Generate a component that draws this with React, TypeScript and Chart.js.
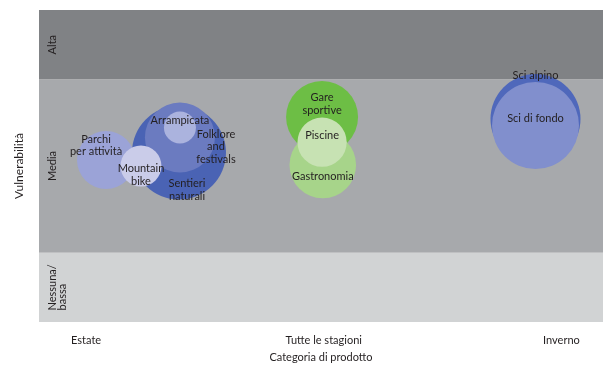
import React, { useEffect, useRef } from 'react';
import { Chart, registerables } from 'chart.js';

Chart.register(...registerables);

// ---- data ----
const categories = ['Estate', 'Tutte le stagioni', 'Inverno'];
const categoryPositions = [0, 1, 2];

const productNames = [
  'Sentieri naturali',
  'Folklore and festivals',
  'Arrampicata',
  'Parchi per attività',
  'Mountain bike',
  'Gare sportive',
  'Gastronomia',
  'Piscine',
  'Sci alpino',
  'Sci di fondo',
];
const seasonValues = [0.391, 0.395, 0.395, 0.084, 0.231, 0.993, 0.996, 0.993, 1.891, 1.891];
const vulnerabilityValues = [2.443, 2.661, 2.805, 2.337, 2.25, 2.957, 2.264, 2.593, 2.928, 2.834];
const bubbleSizes = [47, 35, 16, 29, 20.5, 36, 33.3, 24.6, 45, 43.5];

const bandNames = ['Nessuna/\nbassa', 'Media', 'Alta'];
const bandEdges = [0, 1, 3.5, 4.5];

// ---- styles ----
const bubbleColors = [
  '#4a63b4',
  '#6b7bc0',
  '#abb3de',
  '#9ba3d7',
  '#cacce9',
  '#6dbe45',
  '#a7d48a',
  '#c7e2b3',
  '#4f68bb',
  '#818fcd',
];
// label line breaks and offsets (px) relative to bubble centre
const labelLines = [
  ['Sentieri', 'naturali'],
  ['Folklore', 'and', 'festivals'],
  ['Arrampicata'],
  ['Parchi', 'per attività'],
  ['Mountain', 'bike'],
  ['Gare', 'sportive'],
  ['Gastronomia'],
  ['Piscine'],
  ['Sci alpino'],
  ['Sci di fondo'],
];
const labelOffsets = [
  [8, 37.5],
  [36, 9],
  [0, -7.5],
  [-10, -14.5],
  [0, 9],
  [0, -13],
  [0, 11],
  [0, -6.5],
  [0, -44],
  [0, -7],
];
const bandColors = ['#d1d3d4', '#a7a9ac', '#808285'];
const FONT = 'Lato, "Open Sans", sans-serif';
const TEXT = '#231f20';

const bandPlugin = {
  id: 'bands',
  beforeDatasetsDraw(chart: any) {
    const { ctx, chartArea, scales } = chart;
    const y = scales.y;
    ctx.save();
    for (let i = 0; i < bandNames.length; i++) {
      const top = y.getPixelForValue(bandEdges[i + 1]);
      const bottom = y.getPixelForValue(bandEdges[i]);
      ctx.fillStyle = bandColors[i];
      ctx.fillRect(chartArea.left, top, chartArea.right - chartArea.left, bottom - top);
      // rotated band label
      const lines = bandNames[i].split('\n');
      ctx.font = `11px ${FONT}`;
      ctx.fillStyle = TEXT;
      const maxW = Math.max(...lines.map((l) => ctx.measureText(l).width));
      const cy = (top + bottom) / 2;
      ctx.save();
      ctx.translate(chartArea.left + 13.5, cy);
      ctx.rotate(-Math.PI / 2);
      ctx.textAlign = 'left';
      ctx.textBaseline = 'middle';
      const lh = 10;
      lines.forEach((l, k) => {
        ctx.fillText(l, -maxW / 2, k * lh);
      });
      ctx.restore();
    }
    ctx.restore();
  },
};

const labelPlugin = {
  id: 'bubbleLabels',
  afterDatasetsDraw(chart: any) {
    const { ctx, scales } = chart;
    ctx.save();
    ctx.font = `11px ${FONT}`;
    ctx.fillStyle = TEXT;
    ctx.textAlign = 'center';
    ctx.textBaseline = 'middle';
    const lh = 12.5;
    for (let i = 0; i < productNames.length; i++) {
      const cx = scales.x.getPixelForValue(seasonValues[i]) + labelOffsets[i][0];
      const cy = scales.y.getPixelForValue(vulnerabilityValues[i]) + labelOffsets[i][1];
      const lines = labelLines[i];
      lines.forEach((l, k) => {
        ctx.fillText(l, cx, cy + k * lh - ((lines.length - 1) * lh) / 2);
      });
    }
    ctx.restore();
  },
};

export default function App() {
  const ref = useRef<HTMLCanvasElement>(null);
  useEffect(() => {
    document.body.style.margin = '0';
    const data = productNames.map((name, i) => ({
      x: seasonValues[i],
      y: vulnerabilityValues[i],
      r: bubbleSizes[i],
    }));
    const chart = new Chart(ref.current!, {
      type: 'bubble',
      data: {
        datasets: [
          {
            label: 'Prodotti',
            data,
            backgroundColor: bubbleColors,
            borderWidth: 0,
            hoverBorderWidth: 0,
            hoverRadius: 0,
          } as any,
        ],
      },
      options: {
        animation: false,
        responsive: true,
        maintainAspectRatio: false,
        layout: { autoPadding: false, padding: { top: 10, right: 0, left: 0, bottom: 0 } },
        plugins: { legend: { display: false }, tooltip: { enabled: false } },
        clip: false as any,
        scales: {
          x: {
            type: 'linear',
            min: -0.198,
            max: 2.175,
            grid: { display: false, drawTicks: false },
            border: { display: false },
            afterBuildTicks: (scale: any) => {
              scale.ticks = categoryPositions.map((v) => ({ value: v }));
            },
            afterFit: (scale: any) => {
              scale.height = 44;
            },
            ticks: {
              padding: 12,
              color: TEXT,
              font: { family: FONT, size: 11 },
              maxRotation: 0,
              autoSkip: false,
              callback: (v: any) => {
                const idx = categoryPositions.indexOf(Number(v));
                return idx >= 0 ? categories[idx] : '';
              },
            },
            title: {
              display: true,
              text: 'Categoria di prodotto',
              color: TEXT,
              font: { family: FONT, size: 11 },
              padding: { top: 0, bottom: 1.5 },
            },
          },
          y: {
            type: 'linear',
            min: bandEdges[0],
            max: bandEdges[bandEdges.length - 1],
            grid: { display: false, drawTicks: false },
            border: { display: false },
            ticks: { display: false },
            afterFit: (scale: any) => {
              scale.width = 39;
            },
            title: {
              display: true,
              text: 'Vulnerabilità',
              color: TEXT,
              font: { family: FONT, size: 12 },
              padding: { top: 12, bottom: 0 },
            },
          },
        },
      },
      plugins: [bandPlugin, labelPlugin],
    });
    return () => chart.destroy();
  }, []);
  return (
    <div style={{ position: 'relative', width: 603, height: 366 }}>
      <canvas ref={ref} />
    </div>
  );
}
